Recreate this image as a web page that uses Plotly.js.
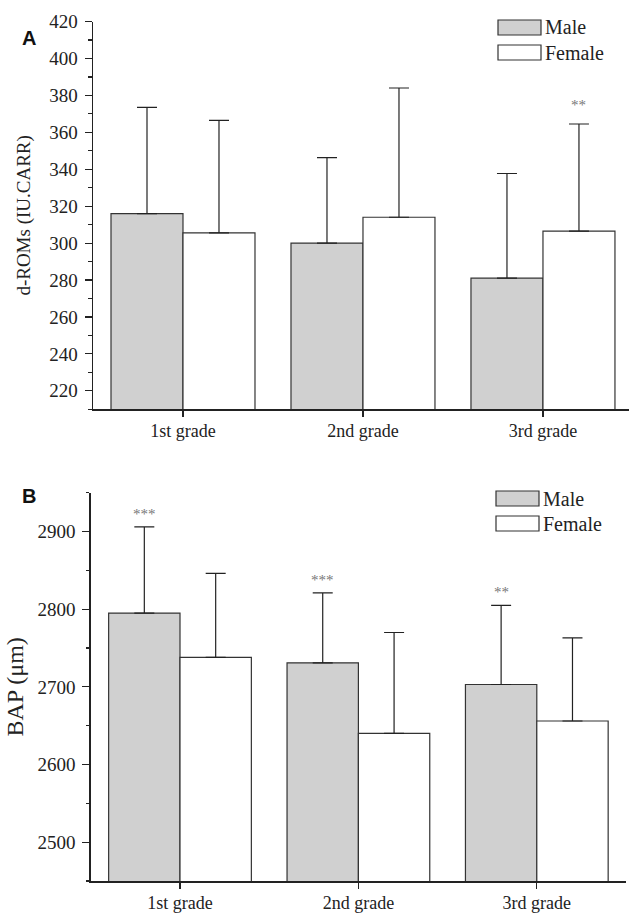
<!DOCTYPE html>
<html>
<head>
<meta charset="utf-8">
<script src="https://cdn.plot.ly/plotly-3.0.1.min.js"></script>
<style>html,body{margin:0;padding:0;background:#fff;}#chart{width:629px;height:914px;}</style>
</head>
<body>
<div id="chart"></div>
<script>
// ---- data ----
const categories = ['1st grade', '2nd grade', '3rd grade'];
const seriesNames = ['Male', 'Female'];

const dromsMale = [316, 300, 281];
const dromsMaleSD = [57.5, 46.3, 56.7];
const dromsFemale = [305.5, 314, 306.5];
const dromsFemaleSD = [61, 70, 58];
const dromsMaleSig = ['', '', ''];
const dromsFemaleSig = ['', '', '**'];

const bapMale = [2795, 2731, 2703];
const bapMaleSD = [111, 90, 102];
const bapFemale = [2738, 2640, 2656];
const bapFemaleSD = [108, 130, 107];
const bapMaleSig = ['***', '***', '**'];
const bapFemaleSig = ['', '', ''];

const dromsTicks = [220, 240, 260, 280, 300, 320, 340, 360, 380, 400, 420];
const bapTicks = [2500, 2600, 2700, 2800, 2900];

// ---- styling ----
const W = 629, H = 914;
const serif = '"Liberation Serif", "Times New Roman", Times, serif';
const ink = '#222';
const maleFill = '#d0d0d0';
const femaleFill = '#ffffff';
const px = x => x / W;
const py = y => (H - y) / H;

function barTrace(name, vals, sd, fill, xa, ya) {
  return {
    type: 'bar', name: name, x: categories, y: vals,
    xaxis: xa, yaxis: ya, showlegend: false,
    marker: {color: fill, line: {color: '#333', width: 1.2}},
    error_y: {type: 'data', symmetric: false, array: sd, arrayminus: sd.map(() => 0),
              color: ink, thickness: 1.2, width: 10},
    hoverinfo: 'skip'
  };
}

const traces = [
  barTrace(seriesNames[0], dromsMale, dromsMaleSD, maleFill, 'x', 'y'),
  barTrace(seriesNames[1], dromsFemale, dromsFemaleSD, femaleFill, 'x', 'y'),
  barTrace(seriesNames[0], bapMale, bapMaleSD, maleFill, 'x2', 'y2'),
  barTrace(seriesNames[1], bapFemale, bapFemaleSD, femaleFill, 'x2', 'y2')
];

const annotations = [];
function sigAnn(vals, sd, sig, offset, xa, ya, shift) {
  sig.forEach((s, i) => {
    if (!s) return;
    annotations.push({
      xref: xa, yref: ya, x: i + offset, y: vals[i] + sd[i],
      text: s, showarrow: false, yanchor: 'middle', yshift: shift,
      font: {family: serif, size: 15, color: '#777'}
    });
  });
}
sigAnn(dromsMale, dromsMaleSD, dromsMaleSig, -0.2, 'x', 'y', 19);
sigAnn(dromsFemale, dromsFemaleSD, dromsFemaleSig, 0.2, 'x', 'y', 19);
sigAnn(bapMale, bapMaleSD, bapMaleSig, -0.2, 'x2', 'y2', 13);
sigAnn(bapFemale, bapFemaleSD, bapFemaleSig, 0.2, 'x2', 'y2', 13);

// panel letters
annotations.push({xref: 'paper', yref: 'paper', x: px(20), y: py(25), text: '<b>A</b>', showarrow: false,
  font: {family: '"Liberation Sans", Arial, sans-serif', size: 20, color: '#111'}});
annotations.push({xref: 'paper', yref: 'paper', x: px(20), y: py(496), text: '<b>B</b>', showarrow: false,
  font: {family: '"Liberation Sans", Arial, sans-serif', size: 20, color: '#111'}});

// custom legends
const shapes = [];
function legend(x0, yTop) {
  const boxW = 43, boxH = 15, gap = 25;
  [[seriesNames[0], maleFill], [seriesNames[1], femaleFill]].forEach((it, k) => {
    const y0 = yTop + k * gap;
    shapes.push({type: 'rect', xref: 'paper', yref: 'paper', x0: px(x0), x1: px(x0 + boxW),
      y0: py(y0), y1: py(y0 + boxH), fillcolor: it[1], line: {color: '#333', width: 1.2}});
    annotations.push({xref: 'paper', yref: 'paper', x: px(x0 + boxW + 2), y: py(y0 + boxH / 2),
      xanchor: 'left', yanchor: 'middle', text: it[0], showarrow: false,
      font: {family: serif, size: 20, color: ink}});
  });
}
legend(498, 20);
legend(496, 491);

const xCommon = {
  type: 'category', showline: true, linecolor: ink, linewidth: 1.5,
  ticks: 'outside', ticklen: 6, tickcolor: ink, tickwidth: 1.2, ticklabelstandoff: -1,
  tickfont: {family: serif, size: 18, color: ink}, showgrid: false, zeroline: false, fixedrange: true
};
const yCommon = {
  showline: true, linecolor: ink, linewidth: 1.5,
  ticks: 'outside', ticklen: 7, tickcolor: ink, tickwidth: 1.2, ticklabelstandoff: 3,
  tickfont: {family: serif, size: 19, color: ink}, showgrid: false, zeroline: false, fixedrange: true
};

const layout = {
  width: W, height: H, margin: {l: 0, r: 0, t: 0, b: 0},
  font: {family: serif, color: ink},
  paper_bgcolor: '#fff', plot_bgcolor: '#fff',
  barmode: 'group', bargap: 0.2, bargroupgap: 0,
  showlegend: false,
  xaxis: Object.assign({}, xCommon, {domain: [px(93), 1], range: [-0.5, 2.478], anchor: 'y'}),
  yaxis: Object.assign({}, yCommon, {domain: [py(409.3), py(21.5)], range: [210, 420],
    tickvals: dromsTicks, ticktext: dromsTicks.map(String), anchor: 'x',
    minor: {dtick: 10, tick0: 0, ticks: 'outside', ticklen: 3.5, tickcolor: ink, tickwidth: 1.2},
    title: {text: 'd-ROMs (IU.CARR)', font: {family: serif, size: 19, color: ink}, standoff: 13}}),
  xaxis2: Object.assign({}, xCommon, {domain: [px(90.8), px(626)], range: [-0.5, 2.5], anchor: 'y2'}),
  yaxis2: Object.assign({}, yCommon, {domain: [py(881), py(492.7)], range: [2450, 2950],
    tickvals: bapTicks, ticktext: bapTicks.map(String), anchor: 'x2',
    minor: {dtick: 50, tick0: 0, ticks: 'outside', ticklen: 3.5, tickcolor: ink, tickwidth: 1.2},
    title: {text: 'BAP (μm)', font: {family: serif, size: 24, color: ink}, standoff: 7}}),
  annotations: annotations,
  shapes: shapes
};

Plotly.newPlot('chart', traces, layout, {displayModeBar: false, staticPlot: true});
</script>
</body>
</html>
